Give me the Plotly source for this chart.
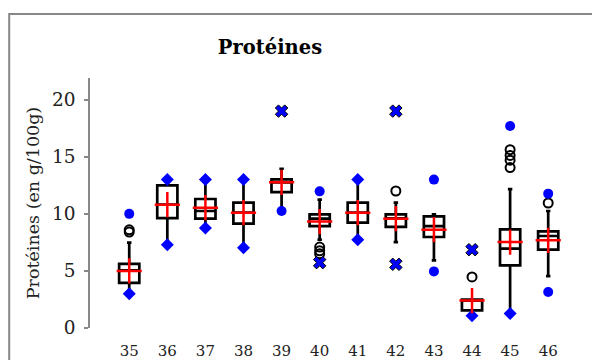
import plotly.graph_objects as go

categories = ["35", "36", "37", "38", "39", "40", "41", "42", "43", "44", "45", "46"]
q1 = [3.95, 9.63, 9.58, 9.14, 11.9, 8.93, 9.23, 8.85, 7.97, 1.55, 5.49, 6.86]
median = [5.05, 10.8, 10.25, 10.1, 12.76, 9.58, 10.1, 9.6, 8.93, 2.4, 6.95, 8.06]
q3 = [5.62, 12.5, 11.3, 10.98, 13.02, 9.96, 10.98, 9.96, 9.78, 2.49, 8.64, 8.47]
lower_whisker = [3.0, 7.3, 8.76, 7.04, 10.25, 7.74, 7.74, 7.53, 5.93, 1.08, 1.26, 4.55]
upper_whisker = [7.48, 13.0, 13.0, 13.0, 13.95, 11.24, 13.0, 10.98, 9.96, 2.49, 12.17, 10.25]
means = [5.0, 10.8, 10.54, 10.1, 12.76, 9.32, 10.1, 9.58, 8.61, 2.4, 7.53, 7.68]

diamond_x = ["35", "36", "36", "37", "37", "38", "38", "41", "41", "44", "45"]
diamond_y = [3.0, 13.0, 7.3, 13.0, 8.76, 13.0, 7.04, 13.0, 7.74, 1.08, 1.26]

bluedot_x = ["35", "39", "40", "43", "43", "45", "46", "46"]
bluedot_y = [10.0, 10.25, 11.97, 13.0, 4.96, 17.7, 11.77, 3.15]

cross_x = ["39", "40", "42", "42", "44"]
cross_y = [19.0, 5.72, 19.0, 5.58, 6.86]

outlier_x = ["35", "35", "40", "40", "40", "42", "44", "45", "45", "45", "45", "46"]
outlier_y = [8.6, 8.4, 7.09, 6.76, 6.5, 12.0, 4.47, 15.62, 15.12, 14.7, 14.05, 10.95]

y_ticks = [0, 5, 10, 15, 20]

fig = go.Figure()

fig.add_trace(go.Box(
    x=categories, q1=q1, median=median, q3=q3,
    lowerfence=lower_whisker, upperfence=upper_whisker,
    boxpoints=False, width=0.53, whiskerwidth=0.22,
    fillcolor="white", line=dict(color="black", width=2.7),
    showlegend=False, hoverinfo="skip",
))

fig.add_trace(go.Scatter(
    x=outlier_x, y=outlier_y, mode="markers", showlegend=False,
    marker=dict(symbol="circle-open", size=9, color="black", line=dict(width=2, color="black")),
))
fig.add_trace(go.Scatter(
    x=diamond_x, y=diamond_y, mode="markers", showlegend=False,
    marker=dict(symbol="diamond", size=10, color="#0000ff", line=dict(width=0)),
))
fig.add_trace(go.Scatter(
    x=bluedot_x, y=bluedot_y, mode="markers", showlegend=False,
    marker=dict(symbol="circle", size=10, color="#0000ff", line=dict(width=0)),
))
fig.add_trace(go.Scatter(
    x=cross_x, y=cross_y, mode="markers", showlegend=False,
    marker=dict(symbol="x", size=11, color="#0000ff", line=dict(width=1, color="black")),
))
fig.add_trace(go.Scatter(
    x=categories, y=means, mode="markers", showlegend=False,
    marker=dict(symbol="cross-thin", size=18, color="red", line=dict(width=2.5, color="red")),
))

axis_grey = "#888888"
fig.update_layout(
    width=600, height=360,
    margin=dict(l=82, r=0, t=70, b=40),
    paper_bgcolor="white", plot_bgcolor="white",
    title=dict(text="<b>Protéines</b>", x=0.4367, xanchor="center", y=0.892, yanchor="middle",
               font=dict(family="DejaVu Serif", size=19.5, color="black")),
    xaxis=dict(type="category", range=[-1.03, 12.57], showline=False, showgrid=False,
               zeroline=False, ticks="", tickfont=dict(family="DejaVu Serif", size=15, color="#222"),
               ticklabelstandoff=12),
    yaxis=dict(range=[0, 21.9], tickvals=y_ticks, showgrid=False, zeroline=False,
               showline=True, linecolor=axis_grey, linewidth=1.5,
               ticks="outside", ticklen=4, tickwidth=1.5, tickcolor=axis_grey,
               ticklabelstandoff=5,
               tickfont=dict(family="DejaVu Serif", size=18.5, color="#222"),
               title=dict(text="Protéines (en g/100g)", standoff=8,
                          font=dict(family="DejaVu Serif", size=17.5, color="#222"))),
    yaxis2=dict(range=[0, 21.9], tickvals=y_ticks, overlaying="y", side="left", anchor="x",
                showgrid=False, zeroline=False, showline=False, showticklabels=False,
                ticks="inside", ticklen=6, tickwidth=1.5, tickcolor=axis_grey),
    shapes=[dict(type="rect", xref="paper", yref="paper",
                 x0=-0.156, x1=1.1, y0=1.256, y1=-0.3,
                 line=dict(color=axis_grey, width=2), fillcolor="rgba(0,0,0,0)", layer="below")],
)

fig.write_html("out.html")
